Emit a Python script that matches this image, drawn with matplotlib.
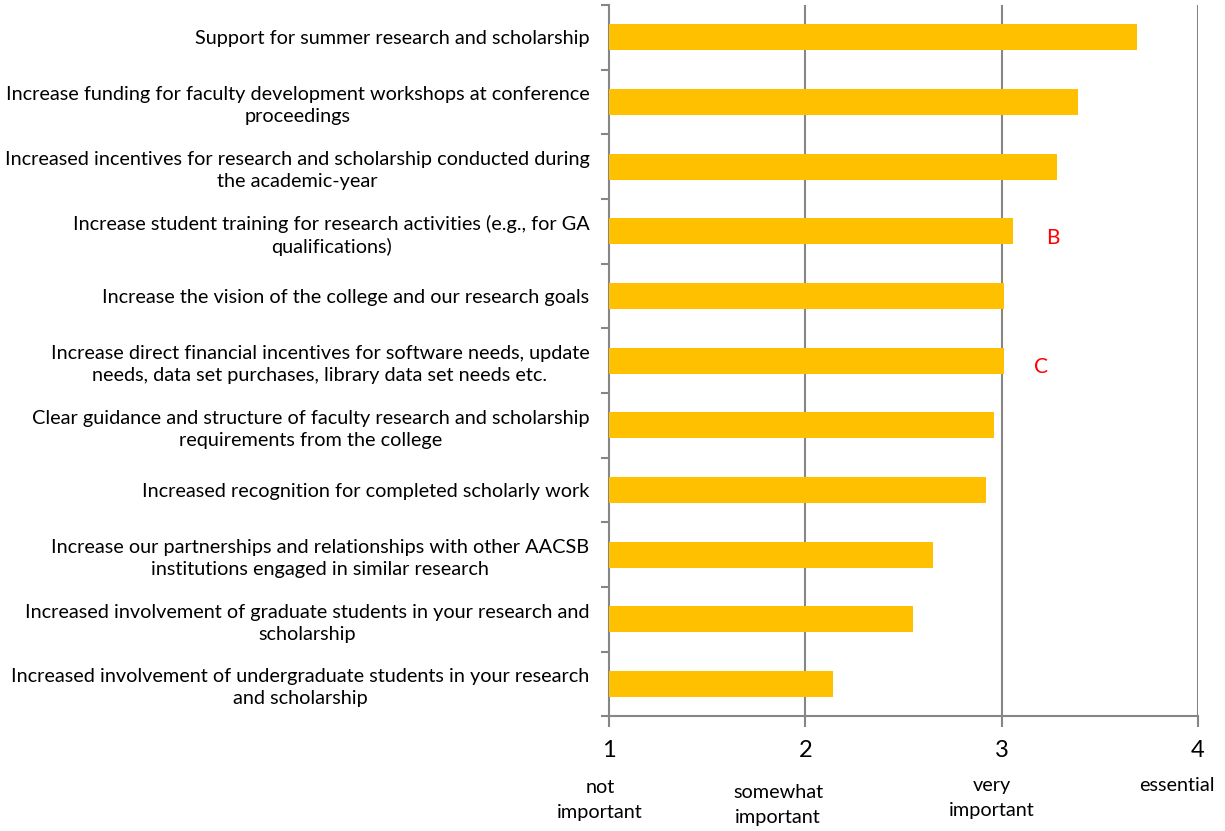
import matplotlib
matplotlib.use("Agg")
import matplotlib.pyplot as plt

# survey items, top to bottom, with mean importance rating (1-4)
items = [
    "Support for summer research and scholarship",
    "Increase funding for faculty development workshops at conference\nproceedings",
    "Increased incentives for research and scholarship conducted during\nthe academic-year",
    "Increase student training for research activities (e.g., for GA\nqualifications)",
    "Increase the vision of the college and our research goals",
    "Increase direct financial incentives for software needs, update\nneeds, data set purchases, library data set needs etc.",
    "Clear guidance and structure of faculty research and scholarship\nrequirements from the college",
    "Increased recognition for completed scholarly work",
    "Increase our partnerships and relationships with other AACSB\ninstitutions engaged in similar research",
    "Increased involvement of graduate students in your research and\nscholarship",
    "Increased involvement of undergraduate students in your research\nand scholarship",
]
means = [3.69, 3.39, 3.28, 3.06, 3.01, 3.01, 2.96, 2.92, 2.65, 2.55, 2.14]

scale_ticks = [1, 2, 3, 4]
scale_names = ["not\nimportant", "somewhat\nimportant", "very\nimportant", "essential"]

# red letter markers next to two of the items
notes = {"B": 3, "C": 5}

plt.rcParams["font.family"] = ["Lato", "DejaVu Sans"]
AXIS_GRAY = "#868686"

fig = plt.figure(figsize=(12.25, 8.31), dpi=100)
ax = fig.add_axes([0.497, 0.138, 0.481, 0.856])

n = len(items)
ypos = list(range(n))
ax.barh(ypos, [m - 1 for m in means], left=1, height=0.40, color="#FFC000", zorder=3)
ax.set_xlim(1, 4)
ax.set_ylim(n - 0.5, -0.5)

for x in scale_ticks[1:]:
    ax.axvline(x, color=AXIS_GRAY, lw=1.5, zorder=1)

for s in ["top", "right"]:
    ax.spines[s].set_visible(False)
for s in ["left", "bottom"]:
    ax.spines[s].set_color(AXIS_GRAY)
    ax.spines[s].set_linewidth(1.5)

# category boundaries get the y ticks, labels sit between them
ax.set_yticks([i - 0.5 for i in range(n + 1)])
ax.set_yticklabels([])
ax.set_yticks(ypos, minor=True)
ax.set_yticklabels(items, minor=True, fontsize=14.3, ha="right",
                   multialignment="center", linespacing=1.35)
ax.tick_params(axis="y", which="major", length=6, color=AXIS_GRAY, width=1.5)
ax.tick_params(axis="y", which="minor", length=0, pad=14)

ax.set_xticks(scale_ticks)
ax.set_xticklabels([str(t) for t in scale_ticks], fontsize=17)
ax.tick_params(axis="x", length=8, color=AXIS_GRAY, width=1.5, pad=9)

for letter, idx in notes.items():
    ax.text(means[idx] + (0.2 if letter == "B" else 0.19), idx + 0.1, letter, color="red",
            fontsize=15, va="center", ha="center")

# verbal anchors under the numeric scale
name_pos = [(600, 0.037), (778, 0.031), (992, 0.040), (1177, 0.055)]
for (px, fy), name in zip(name_pos, scale_names):
    fig.text(px / 1225, fy, name, fontsize=14.3, ha="center", va="center",
             multialignment="center", linespacing=1.55)

fig.savefig("out.png", dpi=100)
